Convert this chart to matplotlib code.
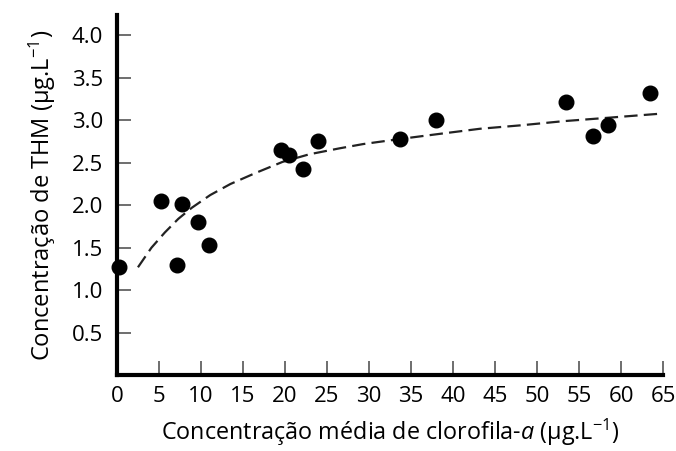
import matplotlib.pyplot as plt

# pontos medidos: clorofila-a media x THM
clorofila = [0.3, 5.3, 7.1, 7.8, 9.7, 10.9, 19.5, 20.5, 22.1, 23.9,
             33.7, 38.0, 53.4, 56.7, 58.4, 63.4]
thm = [1.27, 2.05, 1.30, 2.02, 1.80, 1.53, 2.65, 2.59, 2.43, 2.76,
       2.78, 3.00, 3.21, 2.81, 2.95, 3.32]

# curva de tendencia (tracejada)
curva_x = [2.5, 4.1, 5.7, 7.3, 8.9, 11.1, 13.5, 16.5, 19.7, 22.9, 26.5,
           29.3, 33.7, 38.4, 43.2, 48.0, 53.2, 57.2, 65.0]
curva_y = [1.27, 1.50, 1.68, 1.84, 1.97, 2.12, 2.25, 2.38, 2.51, 2.60, 2.67,
           2.72, 2.78, 2.84, 2.90, 2.94, 2.99, 3.02, 3.08]

x_ticks = [0, 5, 10, 15, 20, 25, 30, 35, 40, 45, 50, 55, 60, 65]
y_ticks = [0.5, 1.0, 1.5, 2.0, 2.5, 3.0, 3.5, 4.0]

plt.rcParams['font.family'] = ['Open Sans', 'DejaVu Sans']
plt.rcParams['mathtext.fontset'] = 'custom'
plt.rcParams['mathtext.rm'] = 'Open Sans'
plt.rcParams['mathtext.it'] = 'Open Sans:italic'

fig = plt.figure(figsize=(6.76, 4.51), dpi=100)
ax = fig.add_axes([0.173, 0.168, 0.808, 0.799])

ax.plot(curva_x, curva_y, color='#222222', linewidth=1.6, dashes=(6, 2.8), zorder=2)
ax.plot(clorofila, thm, 'o', color='black', markersize=10.5, zorder=3, clip_on=False)

ax.set_xlim(0, 65)
ax.set_ylim(0, 4.24)
ax.set_xticks(x_ticks)
ax.set_yticks(y_ticks)
ax.set_yticklabels(['%.1f' % v for v in y_ticks])

for lado in ['top', 'right']:
    ax.spines[lado].set_visible(False)
for lado in ['left', 'bottom']:
    ax.spines[lado].set_linewidth(3)

ax.tick_params(axis='both', direction='in', length=10, width=1.2, color='#555555',
               labelsize=16, pad=8)
ax.tick_params(axis='y', pad=10)

ax.set_xlabel(r'Concentração média de clorofila-$\it{a}$ (μg.L$^{-1}$)', fontsize=16.8, labelpad=7)
ax.set_ylabel(r'Concentração de THM (μg.L$^{-1}$)', fontsize=17, labelpad=10)

plt.savefig('out.png', dpi=100)
